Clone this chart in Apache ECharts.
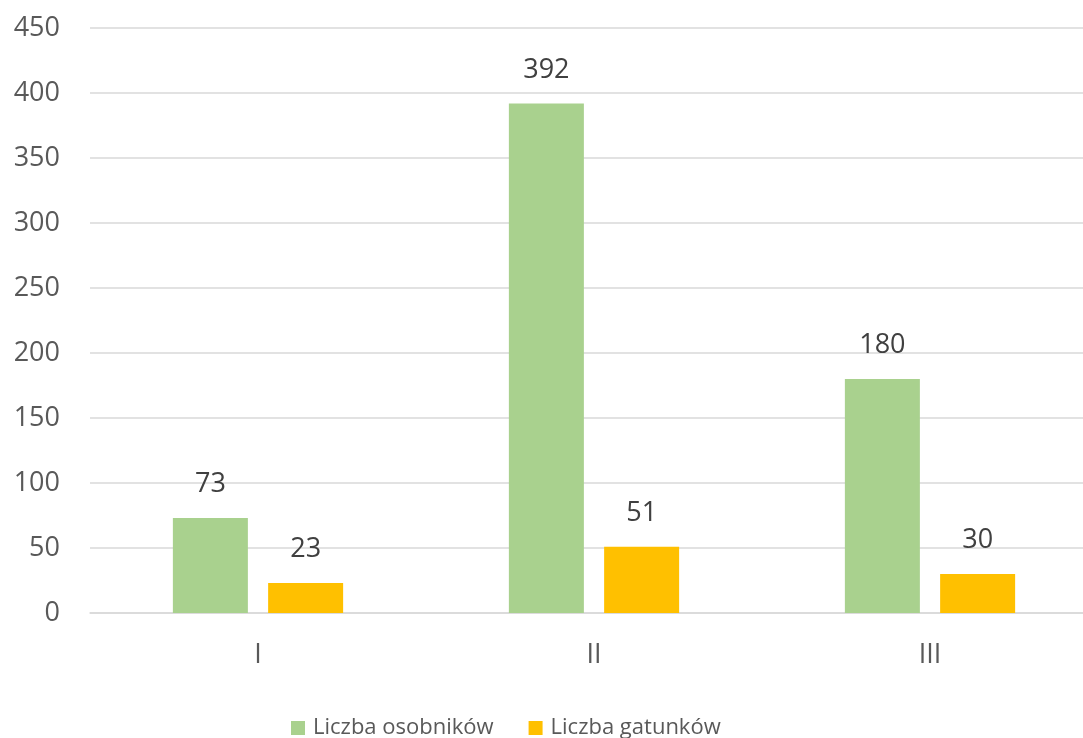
<!DOCTYPE html>
<html>
<head>
<meta charset="utf-8">
<script src="https://cdn.jsdelivr.net/npm/echarts@6/dist/echarts.min.js"></script>
<style>
html,body{margin:0;padding:0;background:#fff;}
#chart{width:1083px;height:738px;}
</style>
</head>
<body>
<div id="chart"></div>
<script>
const categories = ['I', 'II', 'III'];
const seriesNames = ['Liczba osobników', 'Liczba gatunków'];
const osobnikow = [73, 392, 180];
const gatunkow = [23, 51, 30];
const yTicks = [0, 50, 100, 150, 200, 250, 300, 350, 400, 450];

const FONT = "'Open Sans', 'Noto Sans', sans-serif";
const chart = echarts.init(document.getElementById('chart'), null, {renderer: 'canvas'});
chart.setOption({
  backgroundColor: '#ffffff',
  animation: false,
  grid: {left: 90, width: 1008, top: 28, height: 585, containLabel: false, outerBoundsMode: 'none'},
  legend: {
    left: 286, top: 712,
    itemWidth: 14, itemHeight: 14, itemGap: 35,
    icon: 'rect',
    textStyle: {fontFamily: FONT, fontSize: 22, color: '#595959', padding: [0, 0, 0, 3]},
    data: seriesNames
  },
  xAxis: {
    type: 'category',
    data: categories,
    axisLine: {show: true, lineStyle: {color: '#d9d9d9', width: 1.5}},
    axisTick: {show: false},
    axisLabel: {fontFamily: FONT, fontSize: 27, color: '#595959', margin: 29}
  },
  yAxis: {
    type: 'value',
    min: yTicks[0], max: yTicks[yTicks.length - 1], interval: 50,
    axisLine: {show: false},
    axisTick: {show: false},
    splitLine: {lineStyle: {color: '#d9d9d9', width: 1.5}},
    axisLabel: {fontFamily: FONT, fontSize: 27, color: '#595959', margin: 30}
  },
  series: [
    {
      name: seriesNames[0], type: 'bar', data: osobnikow,
      barWidth: 75, barGap: '27%',
      itemStyle: {color: '#A9D18E'},
      label: {show: true, position: 'top', distance: 20, fontFamily: FONT, fontSize: 27, color: '#404040'}
    },
    {
      name: seriesNames[1], type: 'bar', data: gatunkow,
      barWidth: 75,
      itemStyle: {color: '#FFC000'},
      label: {show: true, position: 'top', distance: 20, fontFamily: FONT, fontSize: 27, color: '#404040'}
    }
  ]
});
</script>
</body>
</html>
